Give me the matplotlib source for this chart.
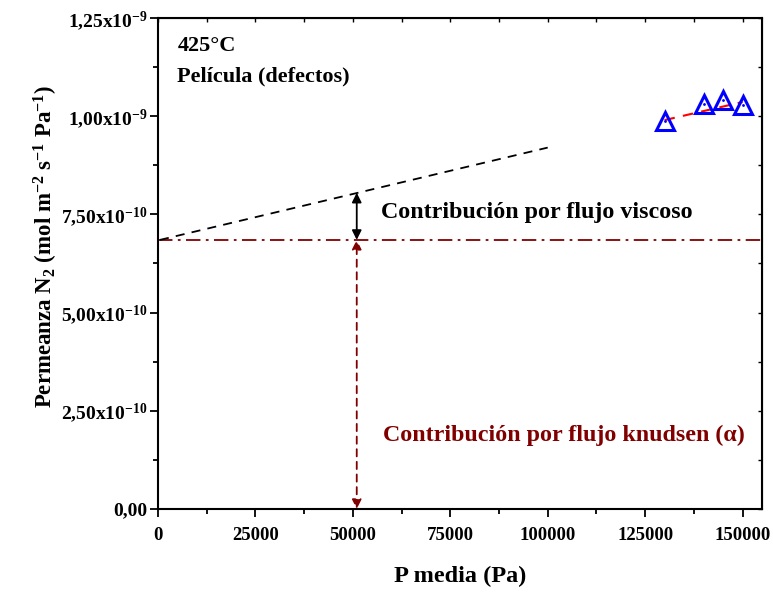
import matplotlib
matplotlib.use("Agg")
import matplotlib.pyplot as plt
from matplotlib.ticker import MultipleLocator, FuncFormatter

# Data
p_media = [130000, 140000, 145000, 150000]
permeanza = [0.988e-9, 1.031e-9, 1.041e-9, 1.029e-9]
fit_x = [130000, 150000]
fit_y = [0.990e-9, 1.036e-9]
visc_x = [500, 100000]
visc_y = [0.685e-9, 0.920e-9]
knudsen_alpha = 0.685e-9
arrow_x = 51000
visc_at_arrow = 0.805e-9

plt.rcParams['font.family'] = ['Liberation Serif', 'DejaVu Serif']
plt.rcParams['font.weight'] = 'bold'
plt.rcParams['mathtext.fontset'] = 'custom'
plt.rcParams['mathtext.rm'] = 'Liberation Serif:bold'
plt.rcParams['mathtext.it'] = 'Liberation Serif:italic:bold'
plt.rcParams['mathtext.bf'] = 'Liberation Serif:bold'
plt.rcParams['mathtext.default'] = 'rm'

darkred = '#800000'

fig = plt.figure(figsize=(7.73, 5.99), dpi=100)
ax = fig.add_axes([0.2044, 0.1503, 0.9858 - 0.2044, 0.97 - 0.1503])

ax.axhline(knudsen_alpha, color=darkred, lw=1.3, ls=(0, (8, 3, 1.5, 3)))
ax.plot(visc_x, visc_y, color='black', ls=(0, (5, 4)), lw=1.3)
ax.plot(fit_x, fit_y, color='red', ls=(0, (5, 4)), lw=1.5)
ax.plot(p_media, permeanza, ls='none', marker='^', ms=13, mfc='none', mec='blue', mew=2.2)
ax.plot(p_media, permeanza, ls='none', marker='.', ms=2, color='blue')

# arrows
ax.annotate('', xy=(arrow_x, visc_at_arrow), xytext=(arrow_x, knudsen_alpha),
            arrowprops=dict(arrowstyle='<|-|>', color='black', lw=1.3,
                            mutation_scale=14, shrinkA=0, shrinkB=0))
ax.annotate('', xy=(arrow_x, knudsen_alpha), xytext=(arrow_x, 0),
            arrowprops=dict(arrowstyle='<|-|>', color=darkred, lw=1.3, ls=(0, (4, 3)),
                            mutation_scale=14, shrinkA=0, shrinkB=0))

ax.text(57200, 0.755e-9, 'Contribución por flujo viscoso', fontsize=17.3,
        fontweight='bold', color='black', va='center', ha='left')
ax.text(57700, 0.187e-9, 'Contribución por flujo knudsen (α)', fontsize=17.3,
        fontweight='bold', color=darkred, va='center', ha='left')
ax.text(0.032, 0.942, '425°C', transform=ax.transAxes, fontsize=16,
        fontweight='bold', va='center', ha='left')
ax.text(0.032, 0.88, 'Película (defectos)', transform=ax.transAxes, fontsize=16,
        fontweight='bold', va='center', ha='left')

ax.set_xlim(0, 155000)
ax.set_ylim(0, 1.25e-9)
ax.xaxis.set_major_locator(MultipleLocator(25000))
ax.xaxis.set_minor_locator(MultipleLocator(12500))
ax.yaxis.set_major_locator(MultipleLocator(0.25e-9))
ax.yaxis.set_minor_locator(MultipleLocator(0.125e-9))

ylabels = {0: '0,00', 1: '2,50x10$^{-10}$', 2: '5,00x10$^{-10}$',
           3: '7,50x10$^{-10}$', 4: '1,00x10$^{-9}$', 5: '1,25x10$^{-9}$'}

def yfmt(v, pos):
    k = int(round(v / 0.25e-9))
    return ylabels.get(k, '')

ax.yaxis.set_major_formatter(FuncFormatter(yfmt))
ax.xaxis.set_major_formatter(FuncFormatter(lambda v, p: '%d' % v))

for s in ax.spines.values():
    s.set_linewidth(1.5)
ax.tick_params(which='major', direction='out', length=6, width=1.3)
ax.tick_params(which='minor', direction='out', length=3.5, width=1.3)
ax.tick_params(axis='x', which='major', labelsize=13.5, pad=7)
ax.tick_params(axis='y', which='major', labelsize=14, pad=1.5)
for t in ax.get_xticklabels() + ax.get_yticklabels():
    t.set_fontweight('bold')

# secondary ticks on top/right pointing inward
axt = ax.secondary_xaxis('top')
axt.xaxis.set_major_locator(MultipleLocator(25000))
axt.xaxis.set_minor_locator(MultipleLocator(12500))
axt.tick_params(which='both', direction='in', length=3, width=1, labeltop=False)
axr = ax.secondary_yaxis('right')
axr.yaxis.set_major_locator(MultipleLocator(0.25e-9))
axr.yaxis.set_minor_locator(MultipleLocator(0.125e-9))
axr.tick_params(which='both', direction='in', length=3, width=1, labelright=False)

ax.set_xlabel('P media (Pa)', fontsize=17.5, fontweight='bold')
ax.xaxis.set_label_coords(0.5, -0.115)
ax.set_ylabel('Permeanza N$_2$ (mol m$^{-2}$ s$^{-1}$ Pa$^{-1}$)', fontsize=16.5,
              fontweight='bold')
ax.yaxis.set_label_coords(-0.163, 0.534)

fig.savefig('out.png', dpi=100)
